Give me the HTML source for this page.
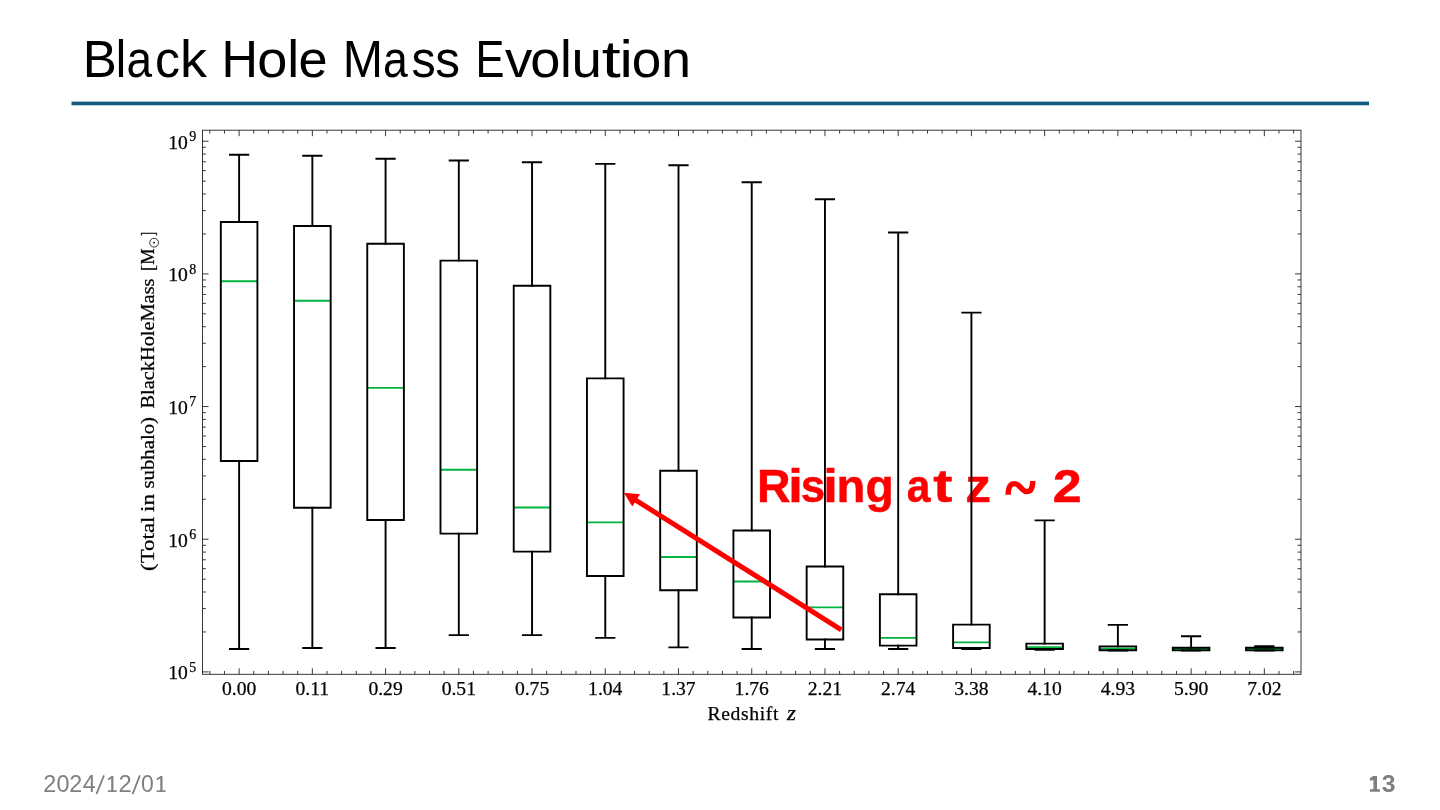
<!DOCTYPE html>
<html><head><meta charset="utf-8">
<style>
html,body{margin:0;padding:0;background:#fff;}
body{width:1440px;height:810px;position:relative;overflow:hidden;font-family:"Liberation Sans",sans-serif;}
.all{position:absolute;left:0;top:0;will-change:transform;}
</style></head><body>
<svg class="all" width="1440" height="810" viewBox="0 0 1440 810">
<g font-family="Liberation Sans, sans-serif" fill="#000"><text x="82.635" y="76.7" font-size="51.5" textLength="34.093" lengthAdjust="spacingAndGlyphs">B</text><text x="115.851" y="76.7" font-size="51.5" textLength="10.449" lengthAdjust="spacingAndGlyphs">l</text><text x="126.478" y="76.7" font-size="51.5" textLength="25.584" lengthAdjust="spacingAndGlyphs">a</text><text x="155.012" y="76.7" font-size="51.5" textLength="25.033" lengthAdjust="spacingAndGlyphs">c</text><text x="179.937" y="76.7" font-size="51.5" textLength="26.939" lengthAdjust="spacingAndGlyphs">k</text><text x="221.514" y="76.7" font-size="51.5" textLength="36.47" lengthAdjust="spacingAndGlyphs">H</text><text x="257.349" y="76.7" font-size="51.5" textLength="30.099" lengthAdjust="spacingAndGlyphs">o</text><text x="287.286" y="76.7" font-size="51.5" textLength="11.912" lengthAdjust="spacingAndGlyphs">l</text><text x="298.412" y="76.7" font-size="51.5" textLength="29.095" lengthAdjust="spacingAndGlyphs">e</text><text x="342.843" y="76.7" font-size="51.5" textLength="40.25" lengthAdjust="spacingAndGlyphs">M</text><text x="382.961" y="76.7" font-size="51.5" textLength="24.8" lengthAdjust="spacingAndGlyphs">a</text><text x="411.396" y="76.7" font-size="51.5" textLength="24.243" lengthAdjust="spacingAndGlyphs">s</text><text x="435.294" y="76.7" font-size="51.5" textLength="24.746" lengthAdjust="spacingAndGlyphs">s</text><text x="475.561" y="76.7" font-size="51.5" textLength="28.924" lengthAdjust="spacingAndGlyphs">E</text><text x="504.941" y="76.7" font-size="51.5" textLength="27.337" lengthAdjust="spacingAndGlyphs">v</text><text x="530.235" y="76.7" font-size="51.5" textLength="30.14" lengthAdjust="spacingAndGlyphs">o</text><text x="560.047" y="76.7" font-size="51.5" textLength="11.79" lengthAdjust="spacingAndGlyphs">l</text><text x="571.475" y="76.7" font-size="51.5" textLength="30.422" lengthAdjust="spacingAndGlyphs">u</text><text x="601.81" y="76.7" font-size="51.5" textLength="18.985" lengthAdjust="spacingAndGlyphs">t</text><text x="619.58" y="76.7" font-size="51.5" textLength="13.35" lengthAdjust="spacingAndGlyphs">i</text><text x="631.651" y="76.7" font-size="51.5" textLength="29.514" lengthAdjust="spacingAndGlyphs">o</text><text x="661.102" y="76.7" font-size="51.5" textLength="30.066" lengthAdjust="spacingAndGlyphs">n</text><text x="756.988" y="501.9" font-size="46.4" font-weight="bold" fill="#ff0000" stroke="#ff0000" stroke-width="0.5" textLength="33.537" lengthAdjust="spacingAndGlyphs">R</text><text x="788.157" y="501.9" font-size="46.4" font-weight="bold" fill="#ff0000" stroke="#ff0000" stroke-width="0.5" textLength="14.555" lengthAdjust="spacingAndGlyphs">i</text><text x="800.804" y="501.9" font-size="46.4" font-weight="bold" fill="#ff0000" stroke="#ff0000" stroke-width="0.5" textLength="24.39" lengthAdjust="spacingAndGlyphs">s</text><text x="823.157" y="501.9" font-size="46.4" font-weight="bold" fill="#ff0000" stroke="#ff0000" stroke-width="0.5" textLength="14.555" lengthAdjust="spacingAndGlyphs">i</text><text x="836.573" y="501.9" font-size="46.4" font-weight="bold" fill="#ff0000" stroke="#ff0000" stroke-width="0.5" textLength="28.872" lengthAdjust="spacingAndGlyphs">n</text><text x="865.451" y="501.9" font-size="46.4" font-weight="bold" fill="#ff0000" stroke="#ff0000" stroke-width="0.5" textLength="28.257" lengthAdjust="spacingAndGlyphs">g</text><text x="906.643" y="501.9" font-size="46.4" font-weight="bold" fill="#ff0000" stroke="#ff0000" stroke-width="0.5" textLength="23.676" lengthAdjust="spacingAndGlyphs">a</text><text x="933.239" y="501.9" font-size="46.4" font-weight="bold" fill="#ff0000" stroke="#ff0000" stroke-width="0.5" textLength="19.125" lengthAdjust="spacingAndGlyphs">t</text><text x="965.349" y="501.9" font-size="46.4" font-weight="bold" fill="#ff0000" stroke="#ff0000" stroke-width="0.5" textLength="25.789" lengthAdjust="spacingAndGlyphs">z</text><text x="1052.722" y="501.9" font-size="46.4" font-weight="bold" fill="#ff0000" stroke="#ff0000" stroke-width="0.5" textLength="28.912" lengthAdjust="spacingAndGlyphs">2</text></g><path d="M1008.19 494.71C1008.19 486.2 1010.59 483.63 1014.45 483.63C1017.98 483.63 1020.55 487.48 1022.47 489.41C1024.4 491.34 1025.36 491.66 1026.65 491.66C1030.82 491.66 1032.75 487.48 1032.75 481.06" fill="none" stroke="#ff0000" stroke-width="5.4"/><g font-family="Liberation Sans, sans-serif" fill="#7f7f7f"><path d="M96.4 794.1L104.0 775.4M132.6 794.1L139.9 775.4" stroke="#7f7f7f" stroke-width="1.75" fill="none"/><text x="43.333" y="791.9" font-size="23.3" textLength="13.021" lengthAdjust="spacingAndGlyphs">2</text><text x="56.541" y="791.9" font-size="23.3" textLength="13.025" lengthAdjust="spacingAndGlyphs">0</text><text x="69.333" y="791.9" font-size="23.3" textLength="13.021" lengthAdjust="spacingAndGlyphs">2</text><text x="82.792" y="791.9" font-size="23.3" textLength="12.963" lengthAdjust="spacingAndGlyphs">4</text><text x="118.553" y="791.9" font-size="23.3" textLength="13.25" lengthAdjust="spacingAndGlyphs">2</text><text x="140.957" y="791.9" font-size="23.3" textLength="12.803" lengthAdjust="spacingAndGlyphs">0</text><text x="1381.89" y="791.8" font-size="23.3" font-weight="bold" textLength="13.796" lengthAdjust="spacingAndGlyphs">3</text><rect x="111.2" y="776.1" width="2.2" height="15.8"/><rect x="107.8" y="790.3" width="9.0" height="1.6"/><path d="M108.1 779.6L112.3 776.8" stroke="#7f7f7f" stroke-width="1.8"/><rect x="160.3" y="776.1" width="2.2" height="15.8"/><rect x="156.6" y="790.3" width="9.0" height="1.6"/><path d="M156.9 779.6L161.1 776.8" stroke="#7f7f7f" stroke-width="1.8"/><path d="M1369.95 778.1L1373.4 776.05L1377.0 776.05L1377.0 789.2L1379.95 789.2L1379.95 791.8L1369.95 791.8L1369.95 789.2L1373.4 789.2L1373.4 780.0L1369.95 780.7Z"/></g>
<rect x="71.5" y="101.6" width="1297.5" height="3.7" fill="#125c7d"/>
<path d="M220.81 281.30H257.42M294.04 300.70H330.65M367.27 387.90H403.88M440.50 469.80H477.11M513.73 507.50H550.34M586.96 522.40H623.57M660.19 557.00H696.80M733.42 581.50H770.03M806.65 607.35H843.26M879.88 637.85H916.49M953.11 642.35H989.72M1026.34 647.25H1062.95M1099.57 648.45H1136.18M1172.80 649.05H1209.41M1246.03 649.05H1282.64" stroke="#00b440" stroke-width="1.9" fill="none"/>
<g fill="none" stroke="#000" stroke-width="1.9" stroke-linejoin="miter">
<path d="M239.12 222.00V154.80M229.96 154.80H248.27M239.12 461.00V649.05M229.96 649.05H248.27M312.35 226.00V155.80M303.19 155.80H321.50M312.35 507.80V648.05M303.19 648.05H321.50M385.58 243.70V158.80M376.42 158.80H394.73M385.58 520.00V648.05M376.42 648.05H394.73M458.81 260.60V160.50M449.65 160.50H467.96M458.81 533.60V635.15M449.65 635.15H467.96M532.04 285.80V162.20M522.88 162.20H541.19M532.04 551.60V635.15M522.88 635.15H541.19M605.27 378.40V163.90M596.11 163.90H614.42M605.27 576.00V637.85M596.11 637.85H614.42M678.50 470.80V165.30M669.34 165.30H687.65M678.50 590.30V647.35M669.34 647.35H687.65M751.73 530.50V182.30M742.57 182.30H760.88M751.73 617.55V649.05M742.57 649.05H760.88M824.96 566.50V199.20M815.80 199.20H834.11M824.96 639.55V649.05M815.80 649.05H834.11M898.19 594.30V232.50M889.03 232.50H907.34M898.19 645.65V649.05M889.03 649.05H907.34M971.42 624.65V312.60M962.26 312.60H980.57M971.42 648.05V649.05M962.26 649.05H980.57M1044.64 643.65V520.40M1035.49 520.40H1053.80M1044.64 649.05V649.75M1035.49 649.75H1053.80M1117.88 646.35V624.85M1108.72 624.85H1127.03M1117.88 650.25V650.45M1108.72 650.45H1127.03M1191.11 647.75V636.25M1181.95 636.25H1200.26M1191.11 650.35V650.45M1181.95 650.45H1200.26M1264.34 647.75V646.25M1255.18 646.25H1273.49M1264.34 650.35V650.45M1255.18 650.45H1273.49" stroke-linecap="square"/>
<path d="M220.81 461.00H257.42V222.00H220.81ZM294.04 507.80H330.65V226.00H294.04ZM367.27 520.00H403.88V243.70H367.27ZM440.50 533.60H477.11V260.60H440.50ZM513.73 551.60H550.34V285.80H513.73ZM586.96 576.00H623.57V378.40H586.96ZM660.19 590.30H696.80V470.80H660.19ZM733.42 617.55H770.03V530.50H733.42ZM806.65 639.55H843.26V566.50H806.65ZM879.88 645.65H916.49V594.30H879.88ZM953.11 648.05H989.72V624.65H953.11ZM1026.34 649.05H1062.95V643.65H1026.34ZM1099.57 650.25H1136.18V646.35H1099.57ZM1172.80 650.35H1209.41V647.75H1172.80ZM1246.03 650.35H1282.64V647.75H1246.03Z"/>
</g>
<rect x="202.5" y="130.2" width="1098.50" height="544.10" fill="none" stroke="#222" stroke-width="0.9"/>
<path d="M239.12 674.30v-6.0M239.12 130.20v6.0M312.35 674.30v-6.0M312.35 130.20v6.0M385.58 674.30v-6.0M385.58 130.20v6.0M458.81 674.30v-6.0M458.81 130.20v6.0M532.04 674.30v-6.0M532.04 130.20v6.0M605.27 674.30v-6.0M605.27 130.20v6.0M678.50 674.30v-6.0M678.50 130.20v6.0M751.73 674.30v-6.0M751.73 130.20v6.0M824.96 674.30v-6.0M824.96 130.20v6.0M898.19 674.30v-6.0M898.19 130.20v6.0M971.42 674.30v-6.0M971.42 130.20v6.0M1044.64 674.30v-6.0M1044.64 130.20v6.0M1117.88 674.30v-6.0M1117.88 130.20v6.0M1191.11 674.30v-6.0M1191.11 130.20v6.0M1264.34 674.30v-6.0M1264.34 130.20v6.0M209.82 674.30v-3.4M209.82 130.20v3.4M224.47 674.30v-3.4M224.47 130.20v3.4M253.76 674.30v-3.4M253.76 130.20v3.4M268.41 674.30v-3.4M268.41 130.20v3.4M283.05 674.30v-3.4M283.05 130.20v3.4M297.70 674.30v-3.4M297.70 130.20v3.4M326.99 674.30v-3.4M326.99 130.20v3.4M341.64 674.30v-3.4M341.64 130.20v3.4M356.28 674.30v-3.4M356.28 130.20v3.4M370.93 674.30v-3.4M370.93 130.20v3.4M400.22 674.30v-3.4M400.22 130.20v3.4M414.87 674.30v-3.4M414.87 130.20v3.4M429.51 674.30v-3.4M429.51 130.20v3.4M444.16 674.30v-3.4M444.16 130.20v3.4M473.45 674.30v-3.4M473.45 130.20v3.4M488.10 674.30v-3.4M488.10 130.20v3.4M502.74 674.30v-3.4M502.74 130.20v3.4M517.39 674.30v-3.4M517.39 130.20v3.4M546.68 674.30v-3.4M546.68 130.20v3.4M561.33 674.30v-3.4M561.33 130.20v3.4M575.97 674.30v-3.4M575.97 130.20v3.4M590.62 674.30v-3.4M590.62 130.20v3.4M619.91 674.30v-3.4M619.91 130.20v3.4M634.56 674.30v-3.4M634.56 130.20v3.4M649.20 674.30v-3.4M649.20 130.20v3.4M663.85 674.30v-3.4M663.85 130.20v3.4M693.14 674.30v-3.4M693.14 130.20v3.4M707.79 674.30v-3.4M707.79 130.20v3.4M722.43 674.30v-3.4M722.43 130.20v3.4M737.08 674.30v-3.4M737.08 130.20v3.4M766.37 674.30v-3.4M766.37 130.20v3.4M781.02 674.30v-3.4M781.02 130.20v3.4M795.66 674.30v-3.4M795.66 130.20v3.4M810.31 674.30v-3.4M810.31 130.20v3.4M839.60 674.30v-3.4M839.60 130.20v3.4M854.25 674.30v-3.4M854.25 130.20v3.4M868.89 674.30v-3.4M868.89 130.20v3.4M883.54 674.30v-3.4M883.54 130.20v3.4M912.83 674.30v-3.4M912.83 130.20v3.4M927.48 674.30v-3.4M927.48 130.20v3.4M942.12 674.30v-3.4M942.12 130.20v3.4M956.77 674.30v-3.4M956.77 130.20v3.4M986.06 674.30v-3.4M986.06 130.20v3.4M1000.71 674.30v-3.4M1000.71 130.20v3.4M1015.35 674.30v-3.4M1015.35 130.20v3.4M1030.00 674.30v-3.4M1030.00 130.20v3.4M1059.29 674.30v-3.4M1059.29 130.20v3.4M1073.94 674.30v-3.4M1073.94 130.20v3.4M1088.58 674.30v-3.4M1088.58 130.20v3.4M1103.23 674.30v-3.4M1103.23 130.20v3.4M1132.52 674.30v-3.4M1132.52 130.20v3.4M1147.17 674.30v-3.4M1147.17 130.20v3.4M1161.81 674.30v-3.4M1161.81 130.20v3.4M1176.46 674.30v-3.4M1176.46 130.20v3.4M1205.75 674.30v-3.4M1205.75 130.20v3.4M1220.40 674.30v-3.4M1220.40 130.20v3.4M1235.04 674.30v-3.4M1235.04 130.20v3.4M1249.69 674.30v-3.4M1249.69 130.20v3.4M1278.98 674.30v-3.4M1278.98 130.20v3.4M1293.63 674.30v-3.4M1293.63 130.20v3.4M202.50 671.90h6.0M1301.00 671.90h-6.0M202.50 631.96h3.4M1301.00 631.96h-3.4M202.50 608.60h3.4M1301.00 608.60h-3.4M202.50 592.02h3.4M1301.00 592.02h-3.4M202.50 579.17h3.4M1301.00 579.17h-3.4M202.50 568.66h3.4M1301.00 568.66h-3.4M202.50 559.78h3.4M1301.00 559.78h-3.4M202.50 552.09h3.4M1301.00 552.09h-3.4M202.50 545.30h3.4M1301.00 545.30h-3.4M202.50 539.23h6.0M1301.00 539.23h-6.0M202.50 499.29h3.4M1301.00 499.29h-3.4M202.50 475.93h3.4M1301.00 475.93h-3.4M202.50 459.35h3.4M1301.00 459.35h-3.4M202.50 446.50h3.4M1301.00 446.50h-3.4M202.50 435.99h3.4M1301.00 435.99h-3.4M202.50 427.11h3.4M1301.00 427.11h-3.4M202.50 419.42h3.4M1301.00 419.42h-3.4M202.50 412.63h3.4M1301.00 412.63h-3.4M202.50 406.56h6.0M1301.00 406.56h-6.0M202.50 366.62h3.4M1301.00 366.62h-3.4M202.50 343.26h3.4M1301.00 343.26h-3.4M202.50 326.68h3.4M1301.00 326.68h-3.4M202.50 313.83h3.4M1301.00 313.83h-3.4M202.50 303.32h3.4M1301.00 303.32h-3.4M202.50 294.44h3.4M1301.00 294.44h-3.4M202.50 286.75h3.4M1301.00 286.75h-3.4M202.50 279.96h3.4M1301.00 279.96h-3.4M202.50 273.89h6.0M1301.00 273.89h-6.0M202.50 233.95h3.4M1301.00 233.95h-3.4M202.50 210.59h3.4M1301.00 210.59h-3.4M202.50 194.01h3.4M1301.00 194.01h-3.4M202.50 181.16h3.4M1301.00 181.16h-3.4M202.50 170.65h3.4M1301.00 170.65h-3.4M202.50 161.77h3.4M1301.00 161.77h-3.4M202.50 154.08h3.4M1301.00 154.08h-3.4M202.50 147.29h3.4M1301.00 147.29h-3.4M202.50 141.22h6.0M1301.00 141.22h-6.0" stroke="#222" stroke-width="0.9" fill="none"/>
<g font-family="Liberation Serif, serif" font-size="19.6" fill="#000" stroke="#000" stroke-width="0.25">
<text x="239.12" y="695.4" text-anchor="middle">0.00</text><text x="312.35" y="695.4" text-anchor="middle">0.11</text><text x="385.58" y="695.4" text-anchor="middle">0.29</text><text x="458.81" y="695.4" text-anchor="middle">0.51</text><text x="532.04" y="695.4" text-anchor="middle">0.75</text><text x="605.27" y="695.4" text-anchor="middle">1.04</text><text x="678.50" y="695.4" text-anchor="middle">1.37</text><text x="751.73" y="695.4" text-anchor="middle">1.76</text><text x="824.96" y="695.4" text-anchor="middle">2.21</text><text x="898.19" y="695.4" text-anchor="middle">2.74</text><text x="971.42" y="695.4" text-anchor="middle">3.38</text><text x="1044.64" y="695.4" text-anchor="middle">4.10</text><text x="1117.88" y="695.4" text-anchor="middle">4.93</text><text x="1191.11" y="695.4" text-anchor="middle">5.90</text><text x="1264.34" y="695.4" text-anchor="middle">7.02</text>
<text x="187.8" y="679.30" text-anchor="end">10</text><text x="189.2" y="671.80" font-size="14">5</text><text x="187.8" y="546.63" text-anchor="end">10</text><text x="189.2" y="539.13" font-size="14">6</text><text x="187.8" y="413.96" text-anchor="end">10</text><text x="189.2" y="406.46" font-size="14">7</text><text x="187.8" y="281.29" text-anchor="end">10</text><text x="189.2" y="273.79" font-size="14">8</text><text x="187.8" y="148.62" text-anchor="end">10</text><text x="189.2" y="141.12" font-size="14">9</text>
<text x="707.5" y="720" font-family="Liberation Serif, sans-serif" font-size="19.6" font-weight="normal" font-style="normal" textLength="71.0" lengthAdjust="spacing" fill="#000">Redshift</text><text x="787.0" y="720" font-family="Liberation Serif, sans-serif" font-size="20" font-weight="normal" font-style="italic" textLength="9.0" lengthAdjust="spacingAndGlyphs" fill="#000">z</text>
<g transform="translate(154.2 600) rotate(-90)">
<text x="29.0" y="0" textLength="54.5" lengthAdjust="spacingAndGlyphs">(Total</text><text x="88.0" y="0" textLength="18.0" lengthAdjust="spacingAndGlyphs">in</text><text x="111.5" y="0" textLength="71.5" lengthAdjust="spacingAndGlyphs">subhalo)</text><text x="191.5" y="0" textLength="130.0" lengthAdjust="spacingAndGlyphs">BlackHoleMass</text><text x="329.0" y="0" textLength="22.5" lengthAdjust="spacingAndGlyphs">[M</text><text x="364.0" y="0" textLength="4.0" lengthAdjust="spacingAndGlyphs">]</text>
<circle cx="357.3" cy="-0.1" r="4.4" fill="none" stroke="#000" stroke-width="0.8"/>
<circle cx="357.3" cy="-0.1" r="0.9" fill="#000" stroke="none"/>
</g>
</g>
<g fill="#ff0000">
<path d="M841.30 629.80L635.32 499.90" stroke="#ff0000" stroke-width="5.0" stroke-linecap="butt"/>
<path d="M623.90 492.70L640.03 494.30L632.30 506.57Z"/>
</g>
</svg>
</body></html>
